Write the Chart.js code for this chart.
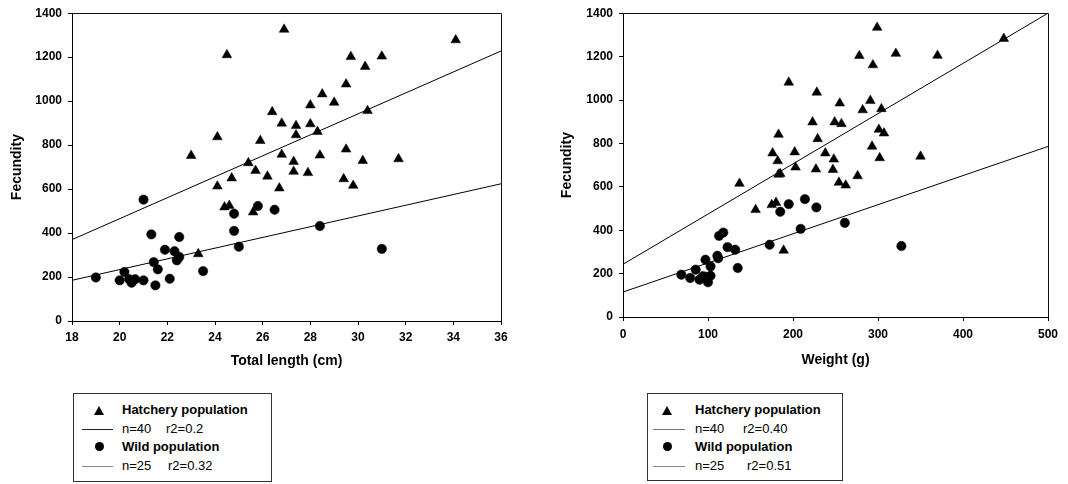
<!DOCTYPE html>
<html>
<head>
<meta charset="utf-8">
<script src="https://cdn.jsdelivr.net/npm/chart.js@4"></script>
<style>
  body { margin: 0; background: #fff; width: 1068px; height: 484px; position: relative; overflow: hidden;
         font-family: "Liberation Sans", Arial, sans-serif; }
  .plot { position: absolute; top: 0; }
  .legend { position: absolute; border: 1px solid #333; box-sizing: border-box; }
  .row { position: absolute; height: 16px; line-height: 16px; font-size: 13px; color: #000; white-space: pre; }
  .row b { font-weight: bold; }
  .row span { display: inline-block; }
  .tri { position: absolute; width: 0; height: 0; border-left: 5.5px solid transparent;
         border-right: 5.5px solid transparent; border-bottom: 9px solid #000; }
  .dot { position: absolute; width: 9px; height: 9px; border-radius: 50%; background: #000; }
  .ln { position: absolute; height: 1px; }
</style>
</head>
<body>
<div class="plot" style="left:0;width:534px;height:380px"><canvas id="lenChart"></canvas></div>
<div class="plot" style="left:534px;width:534px;height:380px"><canvas id="wtChart"></canvas></div>

<div class="legend" style="left:73px;top:393px;width:199px;height:89px">
  <div class="tri" style="left:20px;top:12px"></div>
  <div class="row" style="left:48px;top:8px"><b>Hatchery population</b></div>
  <div class="ln" style="left:8px;top:35px;width:31px;background:#222"></div>
  <div class="row" style="left:48px;top:27px"><span style="width:44px">n=40</span>r2=0.2</div>
  <div class="dot" style="left:21px;top:48px"></div>
  <div class="row" style="left:48px;top:45px"><b>Wild population</b></div>
  <div class="ln" style="left:8px;top:72px;width:31px;background:#888"></div>
  <div class="row" style="left:48px;top:64px"><span style="width:46px">n=25</span>r2=0.32</div>
</div>

<div class="legend" style="left:647px;top:393px;width:196px;height:88px">
  <div class="tri" style="left:14px;top:12px"></div>
  <div class="row" style="left:47px;top:8px"><b>Hatchery population</b></div>
  <div class="ln" style="left:5px;top:35px;width:32px;background:#777"></div>
  <div class="row" style="left:47px;top:27px"><span style="width:48px">n=40</span>r2=0.40</div>
  <div class="dot" style="left:15px;top:48px"></div>
  <div class="row" style="left:47px;top:45px"><b>Wild population</b></div>
  <div class="ln" style="left:5px;top:72px;width:32px;background:#888"></div>
  <div class="row" style="left:47px;top:64px"><span style="width:52px">n=25</span>r2=0.51</div>
</div>

<script>
// fecundity vs total length (cm)
var hatchLen = [23.0,23.3,24.1,24.1,24.5,24.4,24.6,24.7,25.4,25.6,25.7,25.9,26.2,26.4,26.7,26.8,26.8,26.9,27.3,27.3,
                27.4,27.4,27.9,28.0,28.0,28.3,28.4,28.5,29.0,29.4,29.5,29.5,29.7,29.8,30.2,30.3,30.4,31.0,31.7,34.1];
var hatchLenFec = [752,305,837,613,1210,518,525,650,719,495,684,820,658,951,604,757,899,1326,725,680,
                   888,846,674,982,896,861,754,1032,994,646,781,1077,1202,616,729,1157,956,1204,737,1278];
var wildLen = [19.0,20.0,20.2,20.4,20.5,20.65,21.0,21.0,21.33,21.43,21.5,21.6,21.9,22.1,22.3,22.4,22.5,22.5,23.5,
               24.8,24.8,25.0,25.8,26.5,28.4,31.0];
var wildLenFec = [198,185,223,190,174,190,185,552,394,268,162,235,324,192,317,276,291,382,227,
                  488,410,338,523,506,432,328];
// fitted lines, end points
var lenFitX = [18, 36];
var hatchLenFit = [370, 1228];
var wildLenFit = [185, 624];

// fecundity vs weight (g)
var hatchWt = [137,156,175,180,189,176,182,183,185,183,195,202,203,223,228,229,227,238,248,247,
               249,257,255,254,262,276,278,282,291,293,294,299,301,302,304,307,321,350,370,448];
var hatchWtFec = [615,494,517,527,307,755,719,657,660,841,1081,760,690,898,1035,821,681,755,727,679,
                  898,890,985,620,607,650,1204,954,997,786,1161,1334,864,733,959,847,1214,740,1205,1283];
var wildWt = [68.6,79,85.5,90,94,98,100,97,103,103,111,112,113,118,123,132,135,172.5,185,195,209,214,227.5,261,327.5];
var wildWtFec = [195,180,218,172,188,185,160,264,233,190,282,271,374,389,322,310,226,333,485,520,406,543,505,434,327];
var wtFitX = [0, 500];
var hatchWtFit = [243, 1400];
var wildWtFit = [115, 786];

function pts(xs, ys) {
    var out = [];
    for (var i = 0; i < xs.length; i++) out.push({x: xs[i], y: ys[i]});
    return out;
}

// box round the plot area (top and right edges)
var frame = {
    id: 'frame',
    afterDraw: function(chart) {
        var a = chart.chartArea, ctx = chart.ctx;
        ctx.save();
        ctx.strokeStyle = '#111';
        ctx.lineWidth = 1;
        ctx.beginPath();
        ctx.moveTo(Math.round(a.left), Math.round(a.top) + 0.5);
        ctx.lineTo(Math.round(a.right) + 0.5, Math.round(a.top) + 0.5);
        ctx.lineTo(Math.round(a.right) + 0.5, Math.round(a.bottom));
        ctx.stroke();
        ctx.restore();
    }
};

var FAM = '"Liberation Sans", Arial, sans-serif';
function plain(v) { return String(v); }

function makeChart(id, o) {
    return new Chart(document.getElementById(id), {
        type: 'scatter',
        data: {
            datasets: [
                {data: pts(o.hx, o.hy), pointStyle: 'triangle', pointRadius: 5.6, backgroundColor: '#000', borderColor: '#000', borderWidth: 0.5},
                {data: pts(o.wx, o.wy), pointStyle: 'circle', pointRadius: 4.7, backgroundColor: '#000', borderColor: '#000', borderWidth: 0.5},
                {data: pts(o.fx, o.hf), showLine: true, pointRadius: 0, borderColor: '#000', borderWidth: 1},
                {data: pts(o.fx, o.wf), showLine: true, pointRadius: 0, borderColor: '#000', borderWidth: 1}
            ]
        },
        options: {
            responsive: true,
            maintainAspectRatio: false,
            animation: false,
            events: [],
            layout: {padding: {left: 0, top: o.top, right: o.right, bottom: 0}},
            plugins: {legend: {display: false}, tooltip: {enabled: false}},
            scales: {
                x: {
                    type: 'linear', min: o.xmin, max: o.xmax,
                    afterFit: function(s) { s.height = o.xh; },
                    ticks: {stepSize: o.xstep, callback: plain, font: {family: FAM, size: 12, weight: 700}, color: '#000', padding: o.xpad, maxRotation: 0},
                    grid: {drawOnChartArea: false, drawTicks: true, tickLength: 4, color: '#000'},
                    border: {display: true, color: '#000', width: 1},
                    title: {display: true, text: o.xtitle, font: {family: FAM, size: 14, weight: 700}, color: '#000', padding: {top: 0, bottom: o.xtpad}}
                },
                y: {
                    type: 'linear', min: 0, max: 1400,
                    afterFit: function(s) { s.width = o.yw; },
                    ticks: {stepSize: 200, callback: plain, font: {family: FAM, size: 12, weight: 700}, color: '#000', padding: 6},
                    grid: {drawOnChartArea: false, drawTicks: true, tickLength: 4, color: '#000'},
                    border: {display: true, color: '#000', width: 1},
                    title: {display: true, text: 'Fecundity', font: {family: FAM, size: 14, weight: 700}, color: '#000', padding: {top: o.ytpad, bottom: 0}}
                }
            }
        },
        plugins: [frame]
    });
}

makeChart('lenChart', {
    hx: hatchLen, hy: hatchLenFec, wx: wildLen, wy: wildLenFec,
    fx: lenFitX, hf: hatchLenFit, wf: wildLenFit,
    xmin: 18, xmax: 36, xstep: 2, xtitle: 'Total length (cm)',
    top: 12, right: 33, xh: 59, yw: 72, xpad: 5, xtpad: 10, ytpad: 9
});

makeChart('wtChart', {
    hx: hatchWt, hy: hatchWtFec, wx: wildWt, wy: wildWtFec,
    fx: wtFitX, hf: hatchWtFit, wf: wildWtFit,
    xmin: 0, xmax: 500, xstep: 100, xtitle: 'Weight (g)',
    top: 12, right: 20, xh: 63, yw: 89, xpad: 6, xtpad: 11, ytpad: 25
});
</script>
</body>
</html>
